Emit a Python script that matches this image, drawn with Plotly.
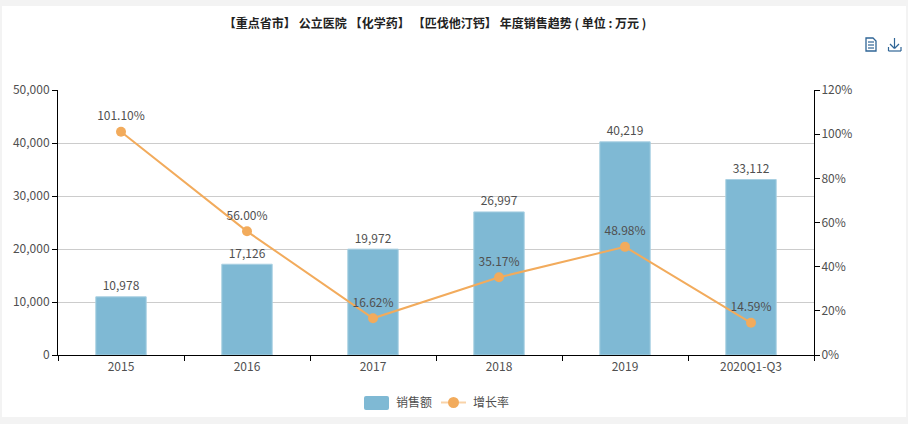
import plotly.graph_objects as go

W, H = 908, 424
L, R, T, B = 58, 814, 90, 355  # plot area in page pixels

title = "【重点省市】\u2005公立医院\u2005【化学药】\u2005【匹伐他汀钙】\u2005年度销售趋势 ( 单位 : 万元 )"
years = ["2015", "2016", "2017", "2018", "2019", "2020Q1-Q3"]
sales = [10978, 17126, 19972, 26997, 40219, 33112]
growth = [101.10, 56.00, 16.62, 35.17, 48.98, 14.59]
sales_name = "销售额"
growth_name = "增长率"

FONT = "Noto Sans CJK SC"
BAR = "#7fb9d4"
LINE = "#f2ab5c"
TEXT = "#505050"
ICON = "#2f6596"


def px(x):
    return (x - L) / (R - L)


def py(y):
    return (B - y) / (B - T)


def rect(x0, y0, x1, y1, color, layer="below"):
    return dict(type="rect", xref="paper", yref="paper", x0=px(x0), x1=px(x1), y0=py(y0), y1=py(y1),
                fillcolor=color, line_width=0, layer=layer)


def seg(x0, y0, x1, y1, color, width=1.2):
    return dict(type="line", xref="paper", yref="paper", x0=px(x0), x1=px(x1), y0=py(y0), y1=py(y1),
                line=dict(color=color, width=width), layer="above")


fig = go.Figure()
fig.add_trace(go.Bar(
    x=years, y=sales, name=sales_name, width=0.4,
    marker=dict(color=BAR, line=dict(color="#a9d0e2", width=1)),
))
fig.add_trace(go.Scatter(
    x=years, y=growth, name=growth_name, yaxis="y2", mode="lines+markers",
    line=dict(color=LINE, width=2), marker=dict(color=LINE, size=10),
))
# labels sit on see-through markers, whose size sets the gap to the mark
fig.add_trace(go.Scatter(
    x=years, y=sales, mode="markers+text", marker=dict(size=4, opacity=0),
    text=[f"{v:,}" for v in sales], textposition="top center", cliponaxis=False,
    textfont=dict(family=FONT, size=12, color=TEXT),
))
fig.add_trace(go.Scatter(
    x=years, y=growth, yaxis="y2", mode="markers+text", marker=dict(size=12, opacity=0),
    text=[f"{v:.2f}%" for v in growth], textposition="top center", cliponaxis=False,
    textfont=dict(family=FONT, size=12, color=TEXT),
))

shapes = [
    rect(2, 6, 906, 417, "#ffffff"),
    # legend swatches
    dict(type="path", xref="paper", yref="paper", fillcolor=BAR, line_width=0, layer="above",
         path=f"M {px(366)} {py(396)} L {px(387)} {py(396)} Q {px(389)} {py(396)} {px(389)} {py(398)} "
              f"L {px(389)} {py(408)} Q {px(389)} {py(410)} {px(387)} {py(410)} "
              f"L {px(366)} {py(410)} Q {px(364)} {py(410)} {px(364)} {py(408)} "
              f"L {px(364)} {py(398)} Q {px(364)} {py(396)} {px(366)} {py(396)} Z"),
    seg(441, 402.5, 466, 402.5, "#f9d3a8", 2),
    dict(type="circle", xref="paper", yref="paper", x0=px(448), x1=px(459), y0=py(397), y1=py(408),
         fillcolor=LINE, line_width=0, layer="above"),
    # document icon
    dict(type="path", xref="paper", yref="paper", layer="above", line=dict(color=ICON, width=1.3),
         path=f"M {px(866)} {py(38)} L {px(873)} {py(38)} L {px(876)} {py(41)} L {px(876)} {py(51)} "
              f"L {px(866)} {py(51)} Z"),
    seg(868, 42, 874, 42, ICON), seg(868, 45, 874, 45, ICON), seg(868, 48, 874, 48, ICON),
    # download icon
    seg(894.5, 38, 894.5, 48, ICON), seg(890, 44, 894.5, 48.5, ICON), seg(899, 44, 894.5, 48.5, ICON),
    seg(888.5, 47, 888.5, 51, ICON), seg(888.5, 51, 901, 51, ICON), seg(901, 47, 901, 51, ICON),
]

annotations = [
    dict(text=sales_name, xref="paper", yref="paper", x=px(394), y=py(401), xanchor="left", yanchor="middle",
         showarrow=False, font=dict(family=FONT, size=12, color=TEXT)),
    dict(text=growth_name, xref="paper", yref="paper", x=px(471), y=py(401), xanchor="left", yanchor="middle",
         showarrow=False, font=dict(family=FONT, size=12, color=TEXT)),
]

fig.update_layout(
    width=W, height=H, showlegend=False,
    margin=dict(l=L, r=W - R, t=T, b=H - B, autoexpand=False),
    paper_bgcolor="#f3f3f3", plot_bgcolor="rgba(0,0,0,0)",
    font=dict(family=FONT, size=12, color=TEXT),
    title=dict(text=title, x=435 / W, xanchor="center", y=1 - 24 / H, yanchor="middle",
               font=dict(family=FONT, size=12, color="#222222", weight="bold")),
    xaxis=dict(type="category", tickson="boundaries", ticks="outside", ticklen=5, tickcolor="#000000",
               showline=True, linecolor="#000000", linewidth=1, showgrid=False, ticklabelstandoff=1,
               tickfont=dict(family=FONT, size=12, color=TEXT)),
    yaxis=dict(range=[0, 50000], dtick=10000, tickformat=",d", ticks="outside", ticklen=5, tickcolor="#000000",
               showline=True, linecolor="#000000", linewidth=1, gridcolor="#cccccc", gridwidth=1, zeroline=False,
               tickfont=dict(family=FONT, size=12, color=TEXT)),
    yaxis2=dict(range=[0, 120], dtick=20, ticksuffix="%", overlaying="y", side="right", ticks="outside",
                ticklen=5, tickcolor="#000000", showline=True, linecolor="#000000", linewidth=1,
                showgrid=False, zeroline=False, ticklabelstandoff=-1,
                tickfont=dict(family=FONT, size=12, color=TEXT)),
    shapes=shapes, annotations=annotations,
)

# the page's default body margin would push the chart 8px in
fig.write_html("out.html", config=dict(displayModeBar=False),
               post_script="document.body.style.margin='0';document.documentElement.style.overflow='hidden';")
